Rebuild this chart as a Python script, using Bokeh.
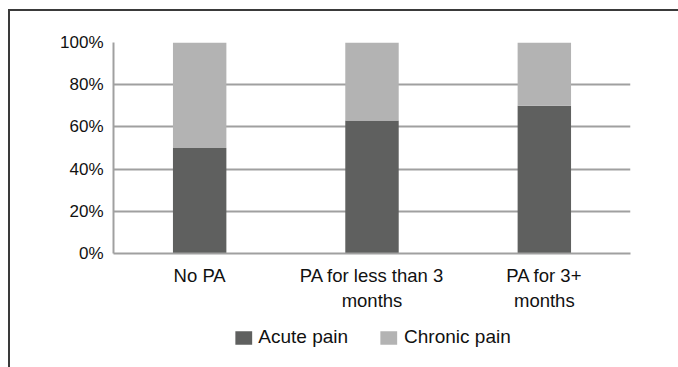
from bokeh.plotting import figure
from bokeh.layouts import column
from bokeh.models import Legend, LegendItem, NumeralTickFormatter, FixedTicker, ColumnDataSource
from bokeh.embed import file_html
from bokeh.resources import INLINE

categories = ["No PA", "PA for less than 3\nmonths", "PA for 3+\nmonths"]
acute = [0.50, 0.63, 0.70]
chronic = [0.50, 0.37, 0.30]
series = ["Acute pain", "Chronic pain"]
colors = ["#5f605f", "#b3b3b3"]
y_ticks = [0, 0.2, 0.4, 0.6, 0.8, 1.0]

src = ColumnDataSource(dict(cat=categories, acute=acute, chronic=chronic))

p = figure(x_range=categories, y_range=(0, 1), width=668, height=304,
           output_backend="svg", toolbar_location=None,
           min_border_left=103, min_border_right=48, min_border_top=31, min_border_bottom=62)
p.outline_line_color = None

r = p.vbar_stack(["acute", "chronic"], x="cat", width=0.31, source=src,
                 color=colors, line_color=None)

font = "Liberation Sans"
p.yaxis.ticker = FixedTicker(ticks=y_ticks)
p.yaxis.formatter = NumeralTickFormatter(format="0%")
for ax in (p.xaxis[0], p.yaxis[0]):
    ax.axis_line_color = "#a0a0a0"
    ax.axis_line_width = 2
    ax.major_tick_line_color = None
    ax.minor_tick_line_color = None
    ax.major_label_text_font = font
    ax.major_label_text_color = "#111111"
p.yaxis.major_label_text_font_size = "17px"
p.yaxis.major_label_standoff = 4
p.xaxis.major_label_text_font_size = "18.5px"
p.xaxis.major_label_standoff = 5
p.xgrid.grid_line_color = None
p.ygrid.grid_line_color = "#a0a0a0"
p.ygrid.grid_line_width = 2
p.ygrid.level = "underlay"

# legend strip below the chart (swatch renderers are zero-height placeholders)
lg = figure(width=668, height=52, x_range=(0, 1), y_range=(0, 1),
            output_backend="svg", toolbar_location=None,
            min_border_left=22, min_border_right=0, min_border_top=0, min_border_bottom=0)
lg.axis.visible = False
lg.grid.grid_line_color = None
lg.outline_line_color = None
swatches = [lg.vbar(x=[0.5], top=[0], bottom=[0], width=0.0, fill_color=c, line_color=None)
            for c in colors]

legend = Legend(items=[LegendItem(label=s, renderers=[rr]) for s, rr in zip(series, swatches)],
                orientation="horizontal", location="top_center",
                glyph_width=21, glyph_height=17, label_standoff=5, spacing=30,
                label_text_font=font, label_text_font_size="19px",
                label_text_color="#111111", border_line_color=None,
                background_fill_alpha=0, padding=0, margin=11)
lg.add_layout(legend, "center")

layout = column(p, lg, spacing=0,
                styles={"margin-left": "8px", "margin-top": "9px",
                        "border-top": "2px solid #3a3a3a",
                        "border-left": "2px solid #3a3a3a"})

open("out.html", "w").write(file_html(layout, INLINE))
